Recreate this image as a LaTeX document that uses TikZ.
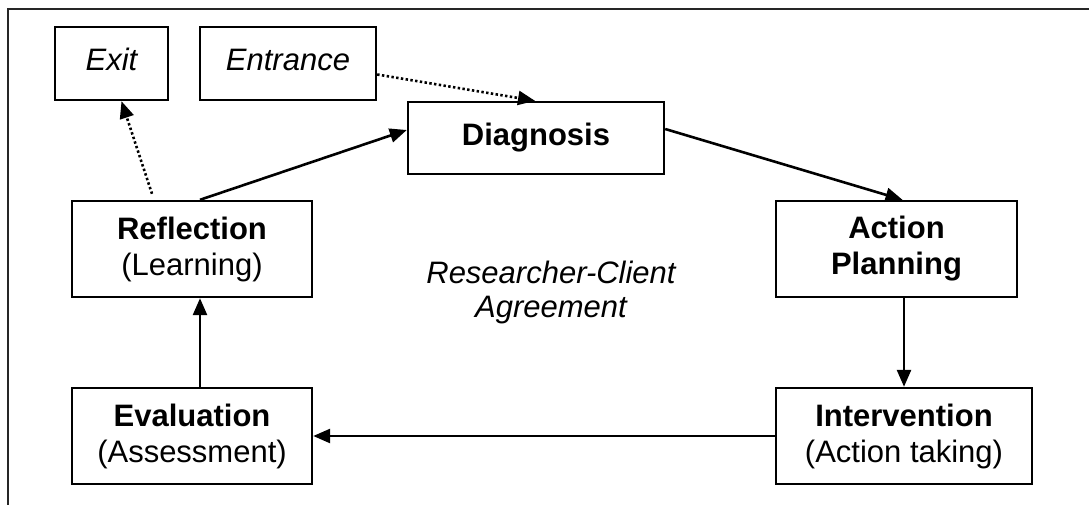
\documentclass[tikz,border=0pt]{standalone}
\usepackage{fontspec}
\setmainfont{Liberation Sans}
\usetikzlibrary{arrows.meta}
\begin{document}
\begin{tikzpicture}[x=1pt,y=-1pt,
  every node/.style={font=\fontsize{31}{36}\selectfont},
  box/.style={draw, line width=2.4pt, rectangle, inner sep=0pt, align=center},
  onebox/.style={box, text height=22pt, text depth=7pt},
  conn/.style={line width=2.6pt, -{Triangle[length=17pt,width=14pt]}},
  dotconn/.style={line width=2.6pt, dash pattern=on 2.4pt off 2.4pt, -{Triangle[length=17pt,width=14pt]}}]
\useasboundingbox (0,0) rectangle (1089,505);
\draw[line width=2.6pt, black!85] (8,505) -- (8,9) -- (1089,9);

\node[onebox, minimum width=113pt, minimum height=73pt] (exit) at (111.5,63.5) {\itshape Exit};
\node[onebox, minimum width=176pt, minimum height=73pt] (entr) at (288,63.5) {\itshape Entrance};
\node[onebox, minimum width=256pt, minimum height=72pt] (diag) at (536,138) {\bfseries Diagnosis};
\node[box, minimum width=240pt, minimum height=96pt] (refl) at (192,249) {\textbf{Reflection}\\(Learning)};
\node[box, minimum width=241pt, minimum height=96pt] (act) at (896.5,249) {\textbf{Action}\\\textbf{Planning}};
\node[box, minimum width=240pt, minimum height=96pt] (eval) at (192,436) {\textbf{Evaluation}\\(Assessment)};
\node[box, minimum width=256pt, minimum height=96pt] (interv) at (904,436) {\textbf{Intervention}\\(Action taking)};
\node[align=center, inner sep=0pt, font=\fontsize{31}{34}\selectfont\itshape] (agree) at (551,292) {Researcher-Client\\Agreement};

\draw[dotconn] ([yshift=-11pt]entr.east) -- ([xshift=-1pt]diag.north);
\draw[dotconn] ([xshift=-40pt,yshift=6pt]refl.north) -- ([xshift=10pt]exit.south);
\draw[conn] ([xshift=8pt]refl.north) -- ([yshift=8pt]diag.west);
\draw[conn] ([yshift=9pt]diag.east) -- ([xshift=6pt]act.north);
\draw[conn] ([xshift=7.5pt]act.south) -- (interv.north);
\draw[conn] (interv.west) -- (eval.east);
\draw[conn] ([xshift=8pt]eval.north) -- ([xshift=8pt]refl.south);
\end{tikzpicture}
\end{document}
